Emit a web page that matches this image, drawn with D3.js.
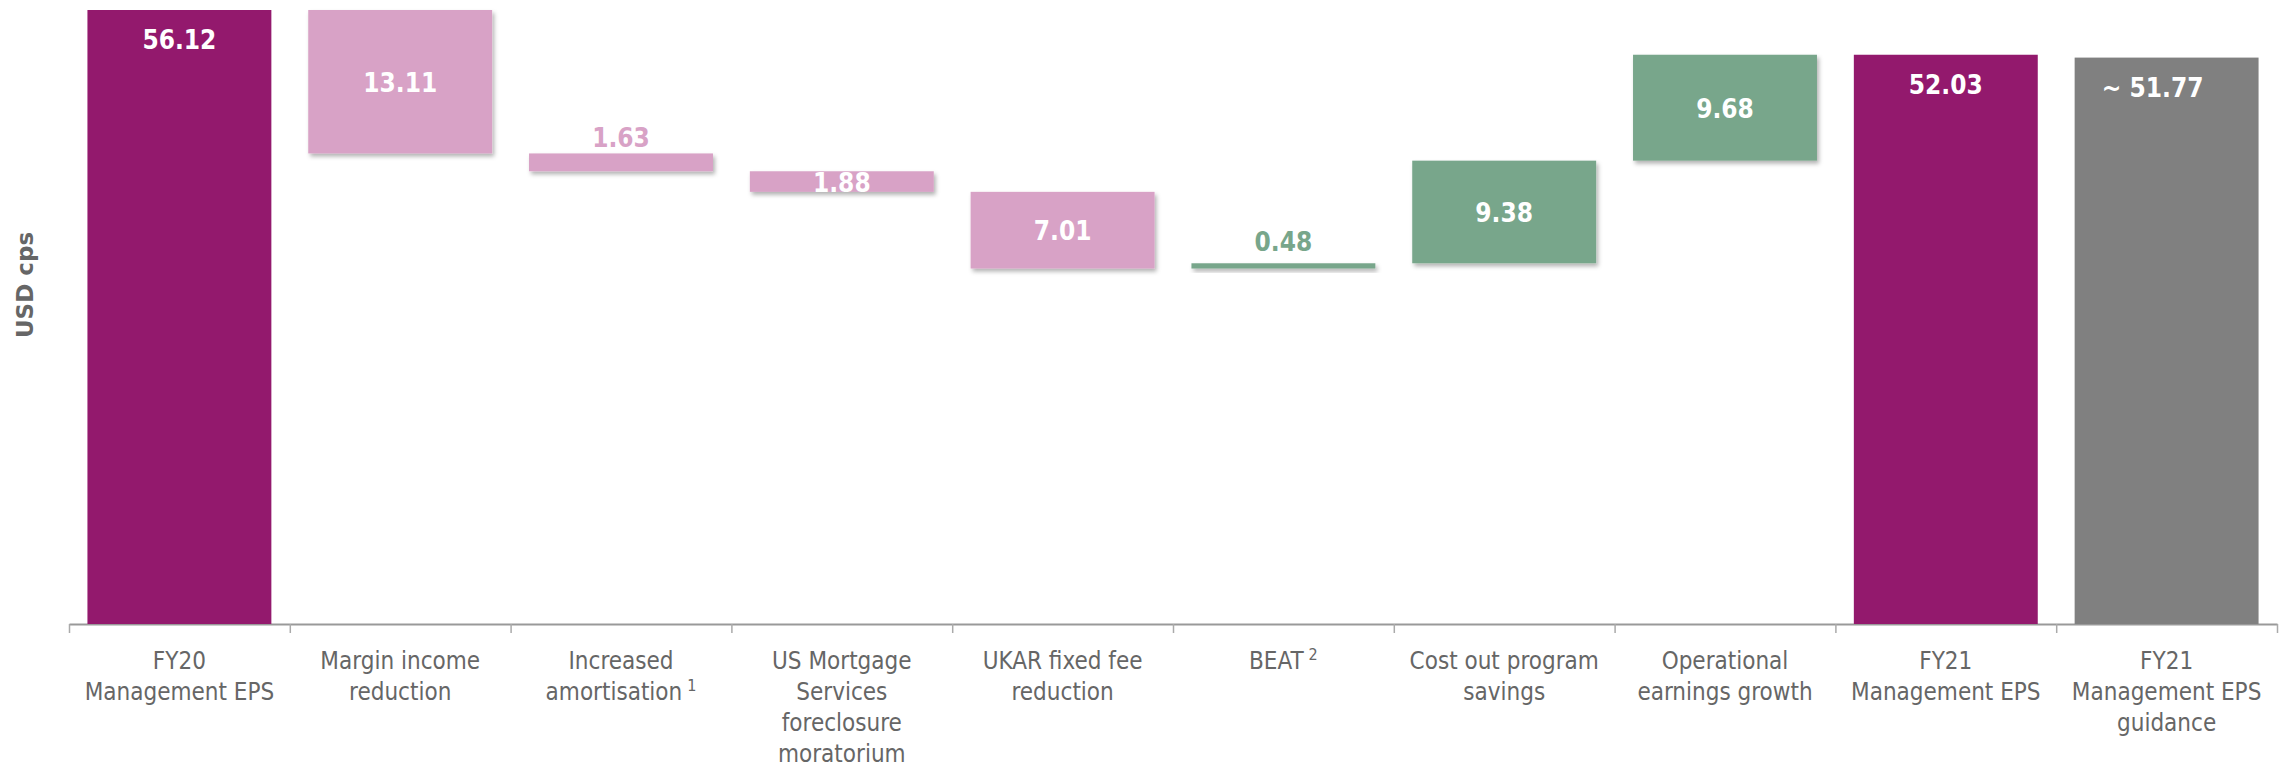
<!DOCTYPE html>
<html>
<head>
<meta charset="utf-8">
<script src="https://cdn.jsdelivr.net/npm/d3@7"></script>
<style>
  body { margin: 0; background: #fff; }
  text { font-family: "DejaVu Sans Condensed", "DejaVu Sans", sans-serif; font-stretch: condensed; }
</style>
</head>
<body>
<div id="chart"></div>
<script>
// Waterfall: FY20 -> FY21 Management EPS

var categories = [
  ["FY20", "Management EPS"],
  ["Margin income", "reduction"],
  ["Increased", "amortisation"],
  ["US Mortgage", "Services", "foreclosure", "moratorium"],
  ["UKAR fixed fee", "reduction"],
  ["BEAT"],
  ["Cost out program", "savings"],
  ["Operational", "earnings growth"],
  ["FY21", "Management EPS"],
  ["FY21", "Management EPS", "guidance"]
];
var footnotes = [null, null, "1", null, null, "2", null, null, null, null];

// signed amounts; totals are absolute values
var amounts = [56.12, -13.11, -1.63, -1.88, -7.01, 0.48, 9.38, 9.68, 52.03, 51.77];
var kinds = ["total", "down", "down", "down", "down", "up", "up", "up", "total", "guide"];
var labels = ["56.12", "13.11", "1.63", "1.88", "7.01", "0.48", "9.38", "9.68", "52.03", "~ 51.77"];

var colors = { total: "#93196d", down: "#d8a2c6", up: "#78a68b", guide: "#808080" };

var svgWidth = 2285;
var svgHeight = 769;

var svg = d3.select("#chart")
  .append("svg")
  .attr("width", svgWidth)
  .attr("height", svgHeight);

// drop shadow used on the bridge boxes
var filter = svg.append("defs").append("filter")
  .attr("id", "shadow")
  .attr("x", "-10%").attr("y", "-30%")
  .attr("width", "120%").attr("height", "200%");
filter.append("feDropShadow")
  .attr("dx", 2).attr("dy", 3)
  .attr("stdDeviation", 2)
  .attr("flood-color", "#000")
  .attr("flood-opacity", 0.3);

// build the running bars
var running = 0;
var bars = amounts.map(function (v, i) {
  var k = kinds[i];
  var lo, hi;
  if (k === "total" || k === "guide") {
    lo = 0; hi = v; running = v;
  } else {
    var next = running + v;
    lo = Math.min(running, next); hi = Math.max(running, next);
    running = next;
  }
  return { i: i, kind: k, lo: lo, hi: hi, value: Math.abs(v), label: labels[i] };
});

var x = d3.scaleBand()
  .domain(d3.range(categories.length))
  .range([69, 2277])
  .paddingInner(0.167)
  .paddingOuter(0.0835);

var xEdge = d3.scaleLinear()
  .domain([0, categories.length])
  .range([69, 2277]);

var y = d3.scaleLinear()
  .domain([0, 56.12])
  .range([624, 10]);

// axis with ticks between categories
svg.append("g")
  .attr("transform", "translate(0,624)")
  .call(d3.axisBottom(xEdge).tickValues(d3.range(categories.length + 1)).tickSize(9).tickSizeOuter(0).tickFormat(""))
  .call(function (g) {
    g.select(".domain").attr("stroke", "#999").attr("stroke-width", 2);
    g.selectAll(".tick line").attr("stroke", "#aaa").attr("stroke-width", 1.5);
  });

// bars
svg.append("g").selectAll("rect")
  .data(bars)
  .enter()
  .append("rect")
  .attr("x", d => x(d.i))
  .attr("width", x.bandwidth())
  .attr("y", d => y(d.hi))
  .attr("height", d => Math.max(y(d.lo) - y(d.hi), 1))
  .attr("fill", d => colors[d.kind])
  .attr("filter", d => (d.kind === "up" || d.kind === "down") ? "url(#shadow)" : null);

// value labels
svg.append("g").selectAll("text")
  .data(bars)
  .enter()
  .append("text")
  .attr("x", d => x(d.i) + x.bandwidth() / 2 + (d.kind === "guide" ? -14 : 0))
  .attr("y", function (d) {
    var top = y(d.hi), bot = y(d.lo), mid = (top + bot) / 2;
    if (d.kind === "total" || d.kind === "guide") return top + 39;
    if (d.value < 1.7) return mid - 15;
    return mid + 10;
  })
  .attr("text-anchor", "middle")
  .attr("font-size", "26px")
  .attr("font-weight", "bold")
  .attr("fill", d => (d.kind !== "total" && d.kind !== "guide" && d.value < 1.7) ? colors[d.kind] : "#fff")
  .text(d => d.label);

// category labels
var catText = svg.append("g").selectAll("text")
  .data(categories)
  .enter()
  .append("text")
  .attr("text-anchor", "middle")
  .attr("font-size", "24px")
  .attr("fill", "#666")
  .attr("transform", (d, i) => `translate(${x(i) + x.bandwidth() / 2}, 669)`);

catText.each(function (lines, i) {
  var t = d3.select(this);
  lines.forEach(function (line, j) {
    t.append("tspan")
      .attr("x", 0)
      .attr("y", j * 31)
      .text(line);
  });
  if (footnotes[i]) {
    t.append("tspan")
      .attr("dx", 5)
      .attr("dy", -9)
      .attr("font-size", "16px")
      .text(footnotes[i]);
  }
});

// y label
svg.append("text")
  .attr("transform", "translate(33,285) rotate(-90)")
  .attr("text-anchor", "middle")
  .attr("font-size", "23px")
  .attr("font-weight", "bold")
  .attr("fill", "#666")
  .style("font-family", "'DejaVu Sans', sans-serif")
  .style("font-stretch", "normal")
  .text("USD cps");
</script>
</body>
</html>
